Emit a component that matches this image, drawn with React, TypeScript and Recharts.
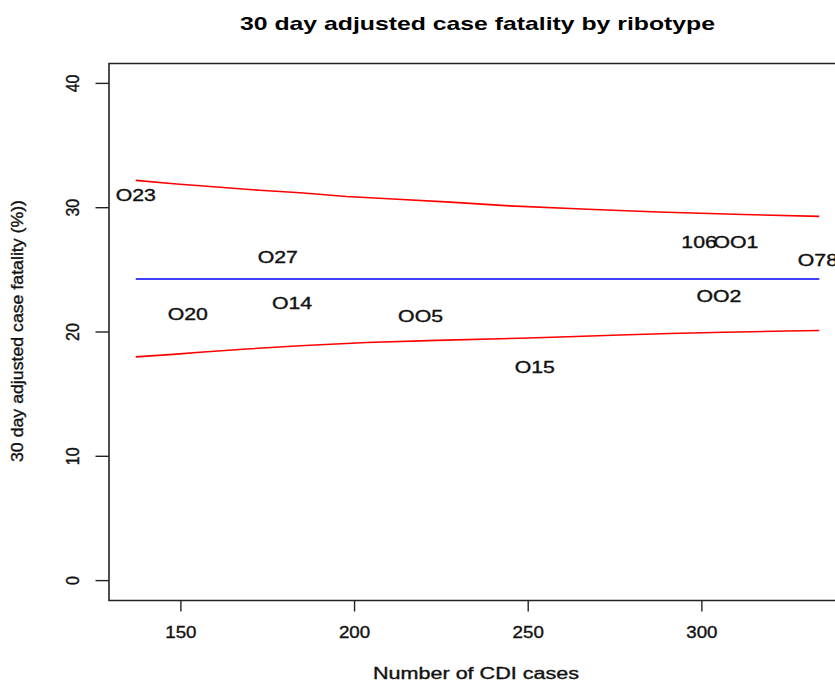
import React from "react";
import {
  ComposedChart,
  Line,
  Scatter,
  XAxis,
  YAxis,
  ReferenceArea,
  Label,
} from "recharts";

// ---------- data ----------
const ribotypes = ["O23", "O27", "O14", "O20", "OO5", "O15", "106", "OO1", "OO2", "O78"];
const caseCounts = [137.0, 177.9, 182.0, 152.0, 219.0, 251.9, 299.2, 309.8, 304.9, 333.4];
const fatality = [31.0, 26.0, 22.3, 21.4, 21.3, 17.2, 27.2, 27.2, 22.9, 25.8];

const upperX = [137.0, 148.8, 158.4, 172.7, 184.3, 197.7, 211.1, 227.5, 244.7, 265.4, 287.4, 311.9, 333.8];
const upperY = [32.2, 31.9, 31.7, 31.4, 31.2, 30.9, 30.7, 30.45, 30.15, 29.9, 29.65, 29.45, 29.3];

const lowerX = [137.0, 147.8, 155.5, 168.9, 184.3, 203.5, 223.6, 247.6, 261.5, 276.4, 290.8, 306.6, 324.4, 333.8];
const lowerY = [18.0, 18.2, 18.37, 18.63, 18.9, 19.15, 19.33, 19.5, 19.62, 19.76, 19.88, 19.98, 20.08, 20.12];

const centreX = [137.0, 333.8];
const centreValue = 24.26;

const xTicks = [150, 200, 250, 300];
const yTicks = [0, 10, 20, 30, 40];
const xDomain: [number, number] = [129.3, 341.9];
const yDomain: [number, number] = [-1.6, 41.6];

const titleText = "30 day adjusted case fatality by ribotype";
const xTitle = "Number of CDI cases";
const yTitle = "30 day adjusted case fatality (%))";

// ---------- derived tables ----------
const points = ribotypes.map((label, i) => ({ x: caseCounts[i], y: fatality[i], label }));
const upperData = upperX.map((x, i) => ({ x, y: upperY[i] }));
const lowerData = lowerX.map((x, i) => ({ x, y: lowerY[i] }));
const centreData = centreX.map((x) => ({ x, y: centreValue }));

const FONT = "'Liberation Sans', Arial, Helvetica, sans-serif";
const SX = 1.33;
const INK = "#111";
const HEAVY = { stroke: INK, strokeWidth: 0.35 };

const XTick = (props: any) => {
  const { x, y, payload } = props;
  return (
    <text
      transform={`translate(${x},${y + 24.5}) scale(${SX * 0.88},1)`}
      textAnchor="middle"
      fontSize={16}
      fontFamily={FONT}
      fill={INK}
      {...HEAVY}
    >
      {payload.value}
    </text>
  );
};

const YTick = (props: any) => {
  const { x, y, payload } = props;
  return (
    <text
      transform={`translate(${x - 15},${y}) scale(1.1,1) rotate(-90)`}
      textAnchor="middle"
      fontSize={16}
      fontFamily={FONT}
      fill={INK}
      {...HEAVY}
    >
      {payload.value}
    </text>
  );
};

const PointLabel = (props: any) => {
  const { cx, cy, payload } = props;
  return (
    <text
      transform={`translate(${cx},${cy}) scale(${SX},1)`}
      dy="0.36em"
      textAnchor="middle"
      fontSize={16}
      fontFamily={FONT}
      fill={INK}
      {...HEAVY}
    >
      {payload.label}
    </text>
  );
};

export default function App() {
  return (
    <div
      style={{
        position: "absolute",
        left: 0,
        top: 0,
        width: 835,
        height: 684,
        overflow: "hidden",
        background: "#fff",
      }}
    >
      <svg
        width={835}
        height={40}
        style={{ position: "absolute", left: 0, top: 0 }}
      >
        <text
          x={477.5}
          y={30}
          textAnchor="middle"
          fontSize={18.5}
          fontWeight="bold"
          fontFamily={FONT}
          textLength={475}
          lengthAdjust="spacingAndGlyphs"
          fill="#000"
        >
          {titleText}
        </text>
      </svg>
      <div style={{ position: "absolute", left: 0, top: 0 }}>
        <ComposedChart
          width={860}
          height={684}
          margin={{ top: 63.5, right: 12.6, bottom: 0, left: 0 }}
        >
          <XAxis
            type="number"
            dataKey="x"
            domain={xDomain}
            ticks={xTicks}
            allowDataOverflow
            axisLine={false}
            tickLine={{ stroke: "#222", strokeWidth: 1.4 }}
            tickSize={11}
            tickMargin={2}
            height={83.5}
            tick={<XTick />}
            interval={0}
          >
            <Label
              content={() => (
                <text
                  x={476}
                  y={679}
                  textAnchor="middle"
                  fontSize={16}
                  fontFamily={FONT}
                  textLength={206}
                  lengthAdjust="spacingAndGlyphs"
                  fill={INK}
                  {...HEAVY}
                >
                  {xTitle}
                </text>
              )}
            />
          </XAxis>
          <YAxis
            type="number"
            dataKey="y"
            domain={yDomain}
            ticks={yTicks}
            allowDataOverflow
            axisLine={false}
            tickLine={{ stroke: "#222", strokeWidth: 1.4 }}
            tickSize={13.5}
            tickMargin={2}
            width={109}
            tick={<YTick />}
            interval={0}
          >
            <Label
              content={() => (
                <text
                  transform="translate(23,331) scale(1.05,1) rotate(-90)"
                  textAnchor="middle"
                  fontSize={16}
                  fontFamily={FONT}
                  textLength={262}
                  lengthAdjust="spacingAndGlyphs"
                  fill={INK}
                  {...HEAVY}
                >
                  {yTitle}
                </text>
              )}
            />
          </YAxis>
          <ReferenceArea
            x1={xDomain[0]}
            x2={xDomain[1]}
            y1={yDomain[0]}
            y2={yDomain[1]}
            fill="none"
            fillOpacity={0}
            stroke="#222"
            strokeWidth={1.6}
            ifOverflow="visible"
          />
          <Line
            data={upperData}
            dataKey="y"
            type="linear"
            stroke="#ff0000"
            strokeWidth={1.6}
            dot={false}
            activeDot={false}
            isAnimationActive={false}
          />
          <Line
            data={lowerData}
            dataKey="y"
            type="linear"
            stroke="#ff0000"
            strokeWidth={1.6}
            dot={false}
            activeDot={false}
            isAnimationActive={false}
          />
          <Line
            data={centreData}
            dataKey="y"
            type="linear"
            stroke="#0000ff"
            strokeWidth={1.5}
            dot={false}
            activeDot={false}
            isAnimationActive={false}
          />
          <Scatter
            data={points}
            dataKey="y"
            shape={<PointLabel />}
            isAnimationActive={false}
          />
        </ComposedChart>
      </div>
    </div>
  );
}
